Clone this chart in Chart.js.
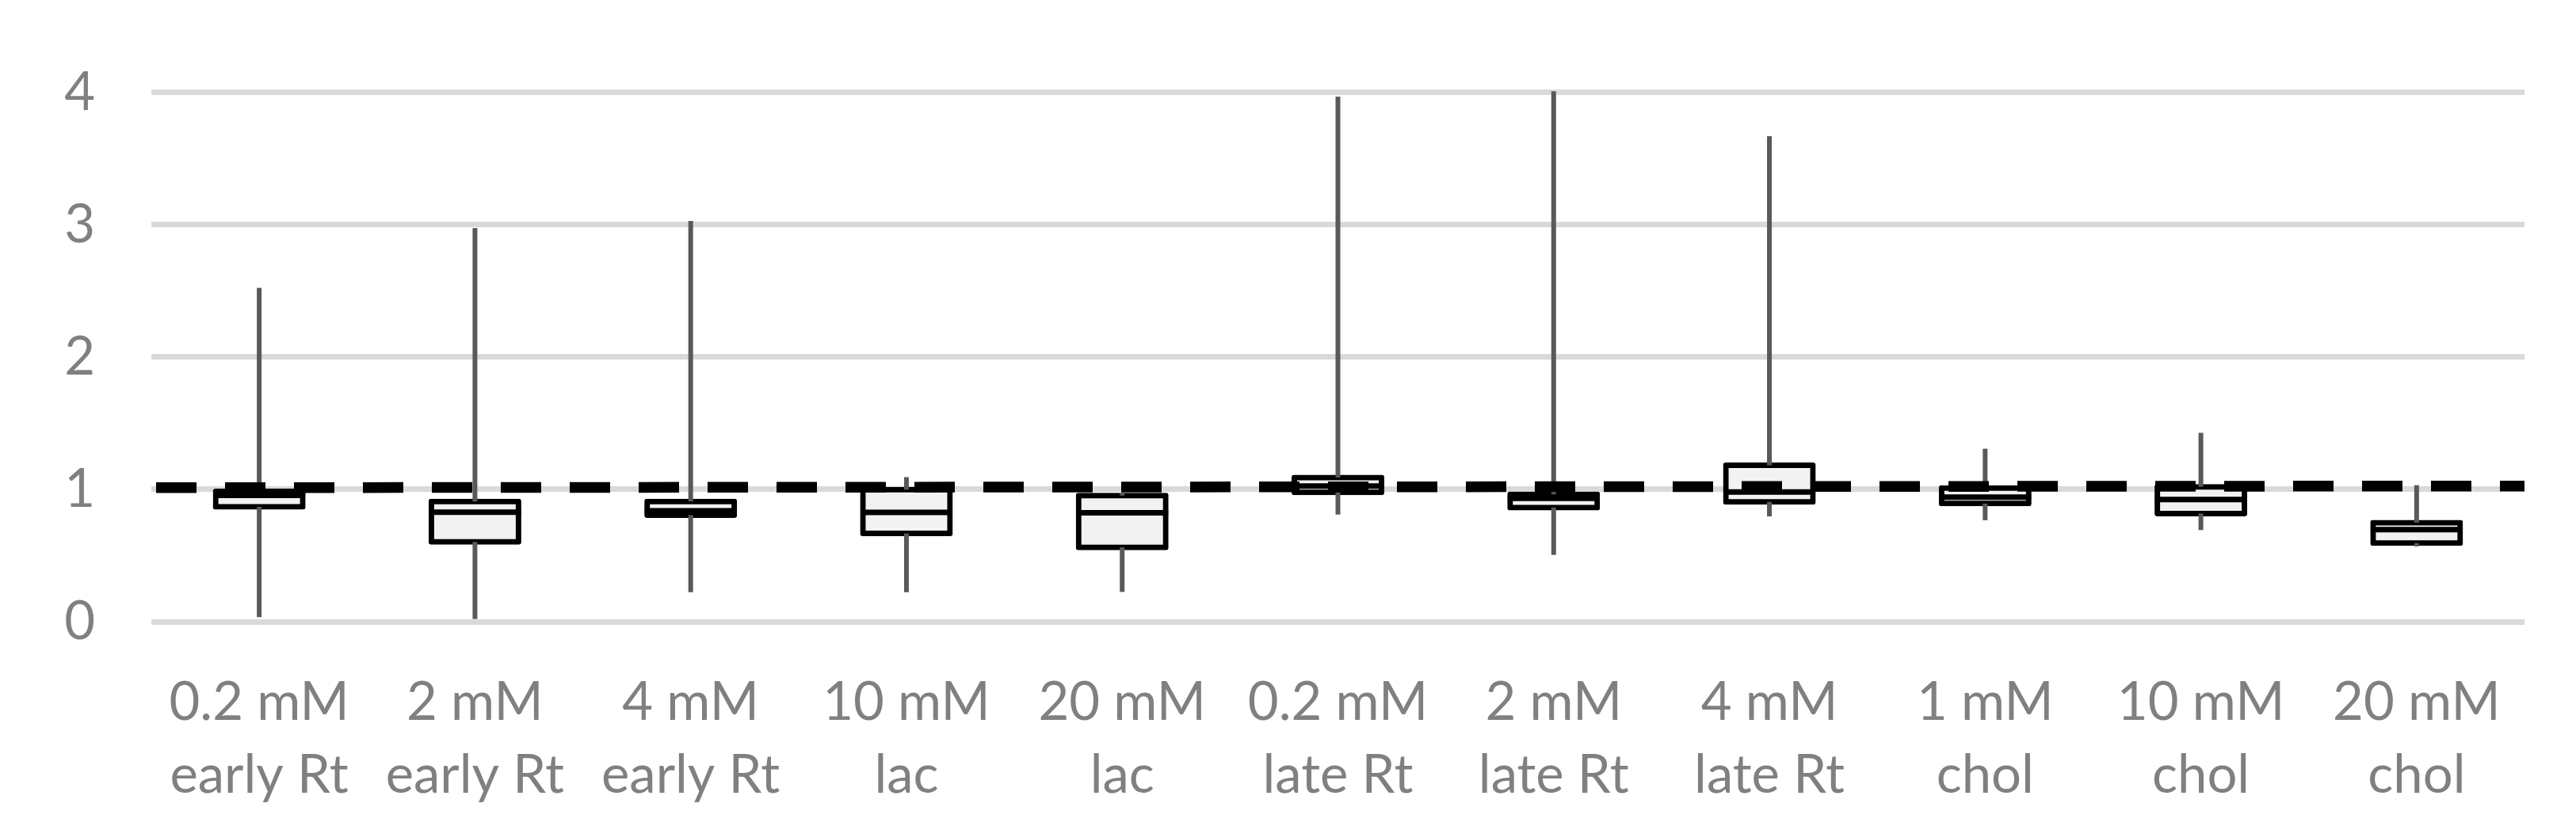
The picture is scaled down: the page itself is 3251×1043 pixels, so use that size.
<!DOCTYPE html>
<html>
<head>
<meta charset="utf-8">
<script src="https://cdn.jsdelivr.net/npm/chart.js@4.4.1/dist/chart.umd.min.js"></script>
<style>
  html, body { margin: 0; padding: 0; background: #fff; }
  canvas { display: block; }
</style>
</head>
<body>
<canvas id="box" width="3251" height="1043"></canvas>
<script>
// categories (two-line labels)
const categories = [
  ['0.2 mM', 'early Rt'], ['2 mM', 'early Rt'], ['4 mM', 'early Rt'],
  ['10 mM', 'lac'], ['20 mM', 'lac'],
  ['0.2 mM', 'late Rt'], ['2 mM', 'late Rt'], ['4 mM', 'late Rt'],
  ['1 mM', 'chol'], ['10 mM', 'chol'], ['20 mM', 'chol']
]

// box plot statistics
const whiskerMin = [0.034, 0.02, 0.223, 0.223, 0.225, 0.81, 0.505, 0.796, 0.767, 0.693, 0.569]
const q1 = [0.868, 0.603, 0.806, 0.667, 0.562, 0.977, 0.863, 0.906, 0.893, 0.818, 0.594]
const median = [0.955, 0.828, 0.839, 0.826, 0.823, 1.025, 0.932, 0.981, 0.941, 0.924, 0.696]
const q3 = [0.985, 0.908, 0.908, 0.998, 0.953, 1.09, 0.963, 1.183, 1.01, 1.02, 0.749]
const whiskerMax = [2.524, 2.976, 3.03, 1.093, 0.974, 3.97, 4.01, 3.67, 1.308, 1.428, 1.032]

// dashed reference level, at left and right edge of the plot
const refLine = [1.013, 1.026]

const yTicks = [0, 1, 2, 3, 4]

const tickFont = { family: 'Lato', size: 67, lineHeight: 1.373 }
const tickColor = '#808080'

const boxes = q1.map((v, i) => [v, q3[i]])
const upperWhisker = q3.map((v, i) => [v, whiskerMax[i]])
const lowerWhisker = whiskerMin.map((v, i) => [v, q1[i]])

const boxConfig = {
  type: 'bar',
  data: {
    labels: categories,
    datasets: [
      {
        label: 'box',
        data: boxes,
        backgroundColor: '#f2f2f2',
        borderColor: '#000000',
        borderWidth: 7,
        borderRadius: 3,
        borderSkipped: false,
        // grow the box so the border sits centred on q1 / q3, like Excel strokes
        inflateAmount: 3.5,
        barThickness: 110,
        grouped: false,
        order: 4,
      },
      {
        label: 'median',
        type: 'line',
        data: median,
        showLine: false,
        pointStyle: 'line',
        pointRadius: 58,
        pointHoverRadius: 58,
        pointBorderWidth: 7,
        pointBorderColor: '#000000',
        order: 3,
      },
      {
        label: 'upper',
        data: upperWhisker,
        backgroundColor: '#595959',
        borderWidth: 0,
        barThickness: 6,
        inflateAmount: 0,
        grouped: false,
        clip: false,
        order: 2,
      },
      {
        label: 'lower',
        data: lowerWhisker,
        backgroundColor: '#595959',
        borderWidth: 0,
        barThickness: 6,
        inflateAmount: 0,
        grouped: false,
        order: 2,
      },
      {
        label: 'ref',
        type: 'line',
        xAxisID: 'xLine',
        data: [{ x: 0, y: refLine[0] }, { x: 1, y: refLine[1] }],
        borderColor: '#000000',
        borderWidth: 13.5,
        borderDash: [51, 36],
        borderDashOffset: -6,
        borderCapStyle: 'butt',
        pointRadius: 0,
        tension: 0,
        clip: false,
        order: 1,
      },
    ],
  },
  options: {
    responsive: false,
    devicePixelRatio: 1,
    animation: false,
    events: [],
    layout: { padding: { top: 115, right: 40, left: 0, bottom: 0 } },
    plugins: {
      legend: { display: false },
      tooltip: { enabled: false },
    },
    scales: {
      x: {
        grid: { display: false },
        border: { display: false },
        ticks: {
          font: tickFont,
          color: tickColor,
          padding: 48,
          autoSkip: false,
          maxRotation: 0,
          minRotation: 0,
        },
        afterFit: (scale) => { scale.height = 258 },
      },
      xLine: {
        type: 'linear',
        display: false,
        offset: false,
        grid: { offset: false },
        min: 0,
        max: 1,
      },
      y: {
        min: yTicks[0],
        max: yTicks[yTicks.length - 1],
        afterBuildTicks: (scale) => { scale.ticks = yTicks.map(v => ({ value: v })) },
        grid: { color: '#d9d9d9', lineWidth: 7, drawTicks: false },
        border: { display: false },
        ticks: {
          font: tickFont,
          color: tickColor,
          padding: 71,
        },
        afterFit: (scale) => { scale.width = 191 },
      },
    },
  },
}

const boxCtx = document.getElementById('box')
window.myBox = new Chart(boxCtx, boxConfig)
</script>
</body>
</html>
